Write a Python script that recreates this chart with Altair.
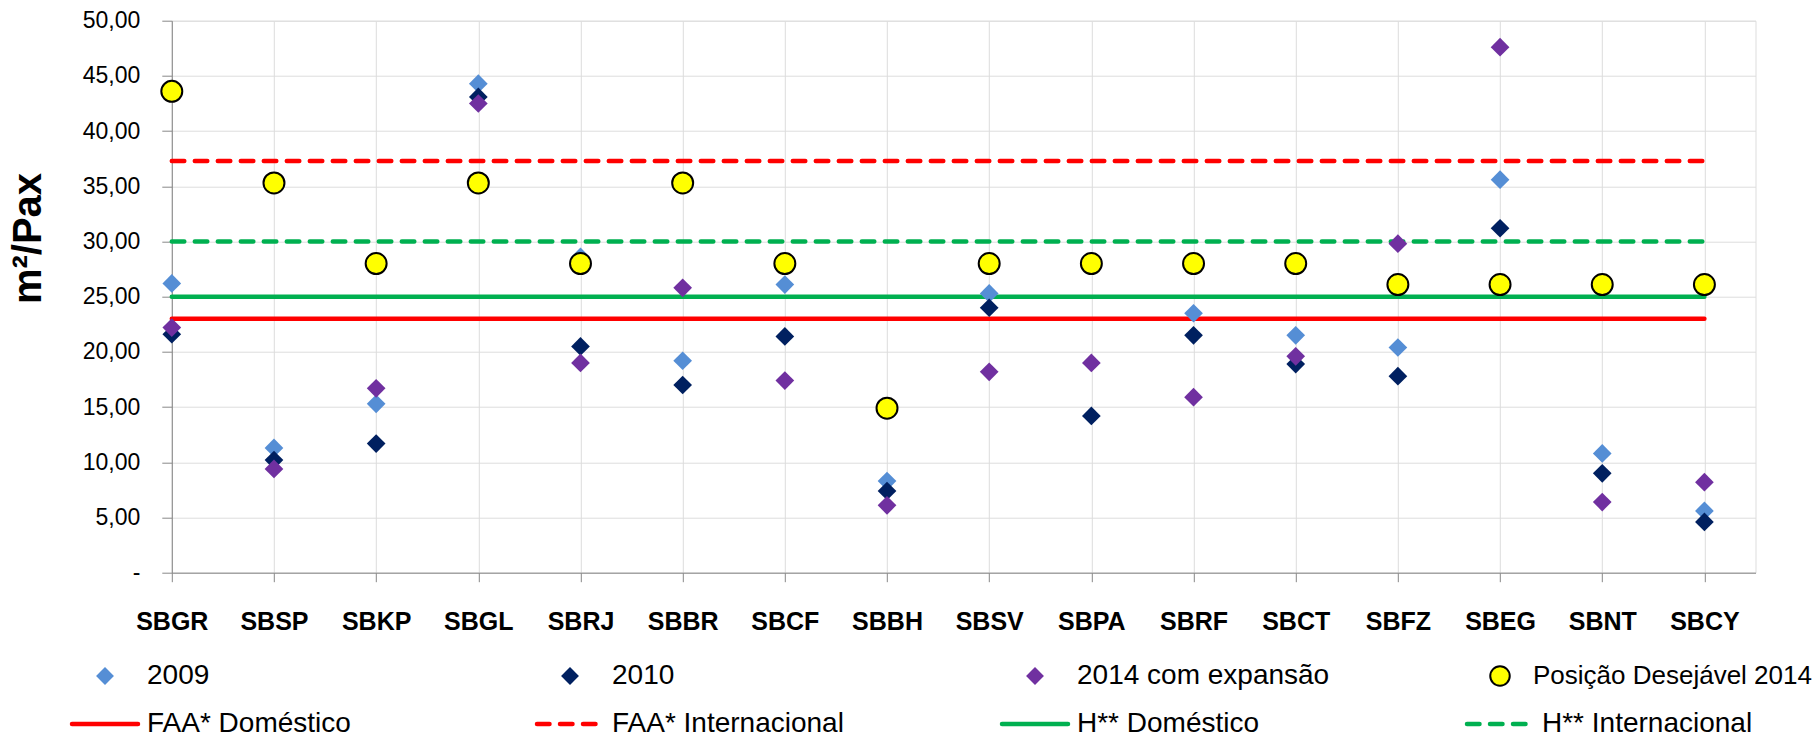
import json
import pandas as pd
import altair as alt

# ---------------- data ----------------
categories = ["SBGR", "SBSP", "SBKP", "SBGL", "SBRJ", "SBBR", "SBCF", "SBBH",
              "SBSV", "SBPA", "SBRF", "SBCT", "SBFZ", "SBEG", "SBNT", "SBCY"]
s2009 = [26.2, 11.3, 15.3, 44.3, 28.6, 19.2, 26.1, 8.3, 25.3, None, 23.5, 21.5, 20.4, 35.6, 10.8, 5.6]
s2010 = [21.6, 10.2, 11.7, 43.1, 20.5, 17.0, 21.4, 7.4, 24.0, 14.2, 21.5, 18.9, 17.8, 31.2, 9.0, 4.6]
s2014 = [22.2, 9.4, 16.7, 42.5, 19.0, 25.8, 17.4, 6.1, 18.2, 19.0, 15.9, 19.6, 29.8, 47.6, 6.4, 8.2]
s_pos = [43.6, 35.3, 28.0, 35.3, 28.0, 35.3, 28.0, 14.9, 28.0, 28.0, 28.0, 28.0, 26.1, 26.1, 26.1, 26.1]
series_names = ["2009", "2010", "2014 com expansão", "Posição Desejável 2014"]
ref_names = ["FAA* Doméstico", "FAA* Internacional", "H** Doméstico", "H** Internacional"]
ref_values = [23.0, 37.3, 25.0, 30.0]
y_ticks = [0, 5, 10, 15, 20, 25, 30, 35, 40, 45, 50]

# ---------------- styles ----------------
FONT = "Liberation Sans"
GRID = "#8a8a8a"
series_colors = ["#558ED5", "#002060", "#7030A0", "#FFFF00"]
ref_colors = ["#FF0000", "#FF0000", "#00B050", "#00B050"]
ref_dash = [[1, 0], [12.5, 10.5], [1, 0], [12.5, 10.5]]
DIAMOND = 350
CIRCLE = 440
LINE_W = 4.5

rows = []
for name, vals in zip(series_names, [s2009, s2010, s2014, s_pos]):
    for i, (c, v) in enumerate(zip(categories, vals)):
        if v is not None:
            rows.append({"series": name, "cat": c, "idx": i + 1, "value": v})
pts = pd.DataFrame(rows)
refs = pd.DataFrame({"name": ref_names, "value": ref_values,
                     "x0": 1, "x1": len(categories)})

label_expr = json.dumps(categories) + "[datum.value - 1]"
x_scale = alt.Scale(domain=[1, len(categories) + 0.5], nice=False, zero=False)
y_scale = alt.Scale(domain=[0, 50], nice=False, zero=False)
x_axis = alt.Axis(values=list(range(1, len(categories) + 1)), labelExpr=label_expr,
                  title=None, labelFontSize=25, labelFontWeight="bold", labelPadding=40,
                  labelBaseline="middle", labelFlush=False, labelOverlap=False,
                  grid=True, ticks=True, tickSize=9, labelColor="#000000")
y_axis = alt.Axis(values=y_ticks,
                  labelExpr="datum.value == 0 ? '-\u00a0\u00a0\u00a0' : replace(format(datum.value, '.2f'), '.', ',')",
                  title="m²/Pax", titleFontSize=40, titleFontWeight="bold",
                  titleX=-143.5, titleY=217.3, titleAngle=270, titleAlign="center",
                  titleBaseline="middle", labelFontSize=23, labelPadding=22,
                  labelFlush=False, labelOverlap=False, grid=True, tickSize=10,
                  labelColor="#000000", titleColor="#000000")

main_layers = []
# reference lines
for name, col, dash in zip(ref_names, ref_colors, ref_dash):
    main_layers.append(
        alt.Chart(refs).transform_filter(alt.datum.name == name)
        .mark_rule(color=col, strokeWidth=LINE_W, strokeDash=dash, strokeCap="round")
        .encode(x=alt.X("x0:Q", scale=x_scale, axis=x_axis),
                x2="x1:Q",
                y=alt.Y("value:Q", scale=y_scale, axis=y_axis))
    )
# points
for name, col in zip(series_names, series_colors):
    if name == series_names[-1]:
        mk = dict(shape="circle", filled=True, fill=col, stroke="#000000",
                  strokeWidth=2, size=CIRCLE, opacity=1)
    else:
        mk = dict(shape="diamond", filled=True, color=col, size=DIAMOND, opacity=1)
    main_layers.append(
        alt.Chart(pts).transform_filter(alt.datum.series == name)
        .mark_point(**mk)
        .encode(x=alt.X("idx:Q", scale=x_scale, axis=x_axis),
                y=alt.Y("value:Q", scale=y_scale, axis=y_axis))
    )
main = alt.layer(*main_layers)

# ---------------- legend ----------------
leg = pd.DataFrame({"label": series_names + ref_names,
                    "col": [0, 1, 2, 3] * 2,
                    "row": [0] * 4 + [1] * 4})
lx = alt.X("col:Q", scale=alt.Scale(domain=[0, 3], range=[-66.8, 1328.2], nice=False, zero=False), axis=None)
ly = alt.Y("row:Q", scale=alt.Scale(domain=[0, 1], range=[655.3, 703.3], nice=False, zero=False), axis=None)
leg_layers = []
for name, col in zip(series_names, series_colors):
    if name == series_names[-1]:
        mk = dict(shape="circle", filled=True, fill=col, stroke="#000000",
                  strokeWidth=2, size=380, opacity=1)
    else:
        mk = dict(shape="diamond", filled=True, color=col, size=320, opacity=1)
    leg_layers.append(alt.Chart(leg).transform_filter(alt.datum.label == name)
                      .mark_point(**mk).encode(x=lx, y=ly))
for name, col, dash in zip(ref_names, ref_colors, ref_dash):
    leg_layers.append(alt.Chart(leg).transform_filter(alt.datum.label == name)
                      .mark_point(shape="stroke", filled=False, color=col, size=66 * 66,
                                  strokeWidth=LINE_W, strokeDash=dash, strokeCap="round",
                                  opacity=1)
                      .encode(x=lx, y=ly))
leg_layers.append(alt.Chart(leg).transform_filter(alt.datum.label != series_names[-1])
                  .mark_text(align="left", baseline="middle", dx=42, fontSize=28,
                             font=FONT, color="#000000")
                  .encode(x=lx, y=ly, text="label:N"))
leg_layers.append(alt.Chart(leg).transform_filter(alt.datum.label == series_names[-1])
                  .mark_text(align="left", baseline="middle", dx=33, fontSize=26,
                             font=FONT, color="#000000")
                  .encode(x=lx, y=ly, text="label:N"))
legend = alt.layer(*leg_layers)

chart = (
    alt.layer(main, legend)
    .resolve_scale(x="independent", y="independent")
    .properties(width=1583.7, height=552,
                autosize=alt.AutoSizeParams(type="none"),
                padding={"left": 163.8, "top": 12.7, "right": 56.5, "bottom": 163.3})
    .configure_axis(gridColor=GRID, gridWidth=1.5, domainColor=GRID, domainWidth=1.5,
                    tickColor=GRID, tickWidth=1.5, labelFont=FONT, titleFont=FONT)
    .configure_view(stroke=GRID, strokeWidth=1.5)
    .configure(background="white")
)

chart.save("out.html", embed_options={"renderer": "svg", "actions": False})
